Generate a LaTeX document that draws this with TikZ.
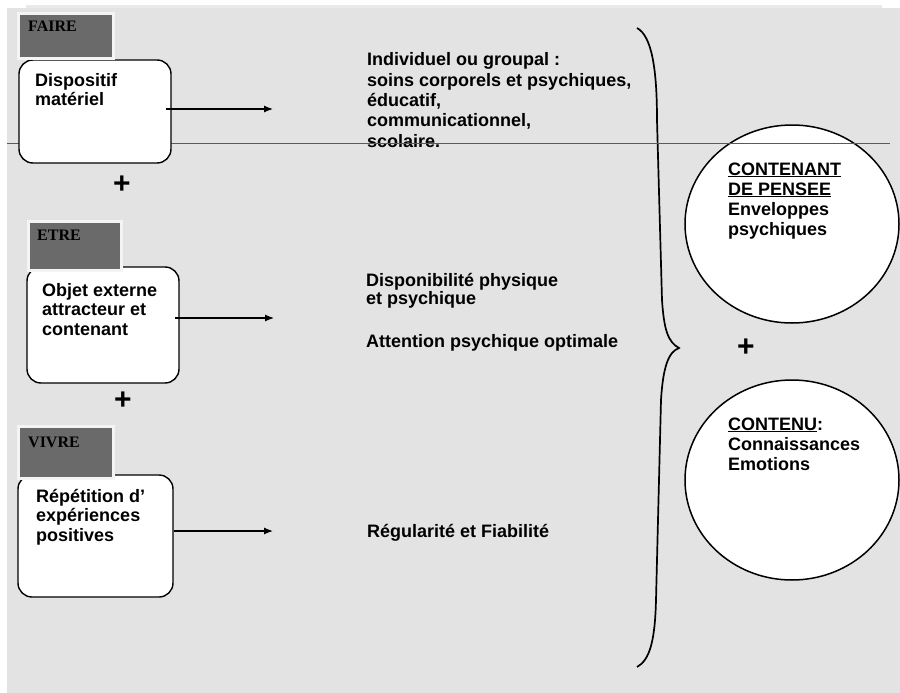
\documentclass[tikz,border=0pt]{standalone}
\usepackage{fontspec}
\setmainfont{Liberation Sans}
\newfontfamily\labelserif{Liberation Serif}
\usetikzlibrary{shapes.geometric,arrows.meta}
\definecolor{bg}{HTML}{E3E3E3}
\definecolor{strip}{HTML}{EFE9E6}
\definecolor{tagfill}{HTML}{6A6A6A}
\definecolor{tagrim}{HTML}{F4F4F4}
\definecolor{rulecol}{HTML}{5A5A5A}
\begin{document}
\begin{tikzpicture}[x=1pt,y=-1pt,
  box/.style={draw=black, line width=1.4pt, fill=white, rounded corners=14pt, inner sep=0pt},
  tag/.style={draw=tagrim, line width=3pt, fill=tagfill, inner sep=0pt},
  txt/.style={inner sep=0pt, anchor=base west, align=left, font=\bfseries\fontsize{18}{20}\selectfont},
  tagtxt/.style={inner sep=0pt, anchor=base west, font=\labelserif\bfseries\fontsize{16}{18}\selectfont},
  plus/.style={font=\bfseries\fontsize{30}{30}\selectfont, inner sep=0pt},
  arr/.style={line width=1.2pt, -{Latex[length=9pt,width=7pt]}},
  oval/.style={ellipse, draw=black, line width=1.5pt, fill=white, inner sep=0pt, minimum width=214pt, minimum height=198pt}]
\useasboundingbox (0,0) rectangle (900,693);
\fill[white] (0,0) rectangle (900,693);
\fill[bg] (7,8) rectangle (900,693);
\fill[strip] (26,5) rectangle (882,8);

% ellipses
\node[oval] (e1) at (792,224) {};
\node[oval, minimum height=200pt] (e2) at (792,480) {};

% brace
\draw[line width=1.7pt] (637,28) .. controls (652,36) and (657,70) .. (657,120)
  -- (662,300) .. controls (664,330) and (668,342) .. (679,348)
  .. controls (668,352) and (663,368) .. (661,400)
  -- (656,600) .. controls (655,640) and (650,660) .. (637,667);

% middle texts (anchor = baseline of last line)
\node[txt, font=\bfseries\fontsize{18}{20.3}\selectfont] (m1) at (367,147) {Individuel ou groupal :\\soins corporels et psychiques,\\éducatif,\\communicationnel,\\scolaire.};
\node[txt, font=\bfseries\fontsize{18}{18}\selectfont] (m2) at (366,304) {Disponibilité physique\\et psychique};
\node[txt] (m3) at (366,347) {Attention psychique optimale};
\node[txt] (m4) at (367,537) {Régularité et Fiabilité};

% circle texts
\node[txt] (c1) at (728,235) {\underline{CONTENANT}\\\underline{DE PENSEE}\\Enveloppes\\psychiques};
\node[txt] (c2) at (728,470) {\underline{CONTENU}:\\Connaissances\\Emotions};

% horizontal rule
\coordinate (hl) at (7,143);
\coordinate (hr) at (890,143);
\draw[rulecol, line width=0.9pt] (hl) -- (hr);

% boxes
\node[box, minimum width=152pt, minimum height=103pt] (b1) at (95,111.5) {};
\node[box, minimum width=152pt, minimum height=116pt] (b2) at (103,325) {};
\node[box, minimum width=155pt, minimum height=122pt] (b3) at (95.5,536) {};

\node[txt] (t1) at (35,106) {Dispositif\\matériel};
\node[txt, font=\bfseries\fontsize{18}{19.5}\selectfont] (t2) at (42,335) {Objet externe\\attracteur et\\contenant};
\node[txt, font=\bfseries\fontsize{18}{19.5}\selectfont] (t3) at (36,541) {Répétition d’\\expériences\\positives};

% tags
\node[tag, minimum width=95pt, minimum height=45pt] (g1) at (66,36) {};
\node[tag, minimum width=93pt, minimum height=49pt] (g2) at (75,246) {};
\node[tag, minimum width=95pt, minimum height=52pt] (g3) at (66,452.5) {};
\node[tagtxt] (l1) at (28,32) {FAIRE};
\node[tagtxt] (l2) at (37,240) {ETRE};
\node[tagtxt] (l3) at (28,447) {VIVRE};

% arrows
\coordinate (a1s) at (166,109); \coordinate (a1e) at (273,109);
\coordinate (a2s) at (175,318); \coordinate (a2e) at (274,318);
\coordinate (a3s) at (174,531); \coordinate (a3e) at (273,531);
\draw[arr] (a1s) -- (a1e);
\draw[arr] (a2s) -- (a2e);
\draw[arr] (a3s) -- (a3e);

% plus signs
\node[plus] (p1) at (122,185) {+};
\node[plus] (p2) at (123,401) {+};
\node[plus] (p3) at (746,348) {+};
\end{tikzpicture}
\end{document}
